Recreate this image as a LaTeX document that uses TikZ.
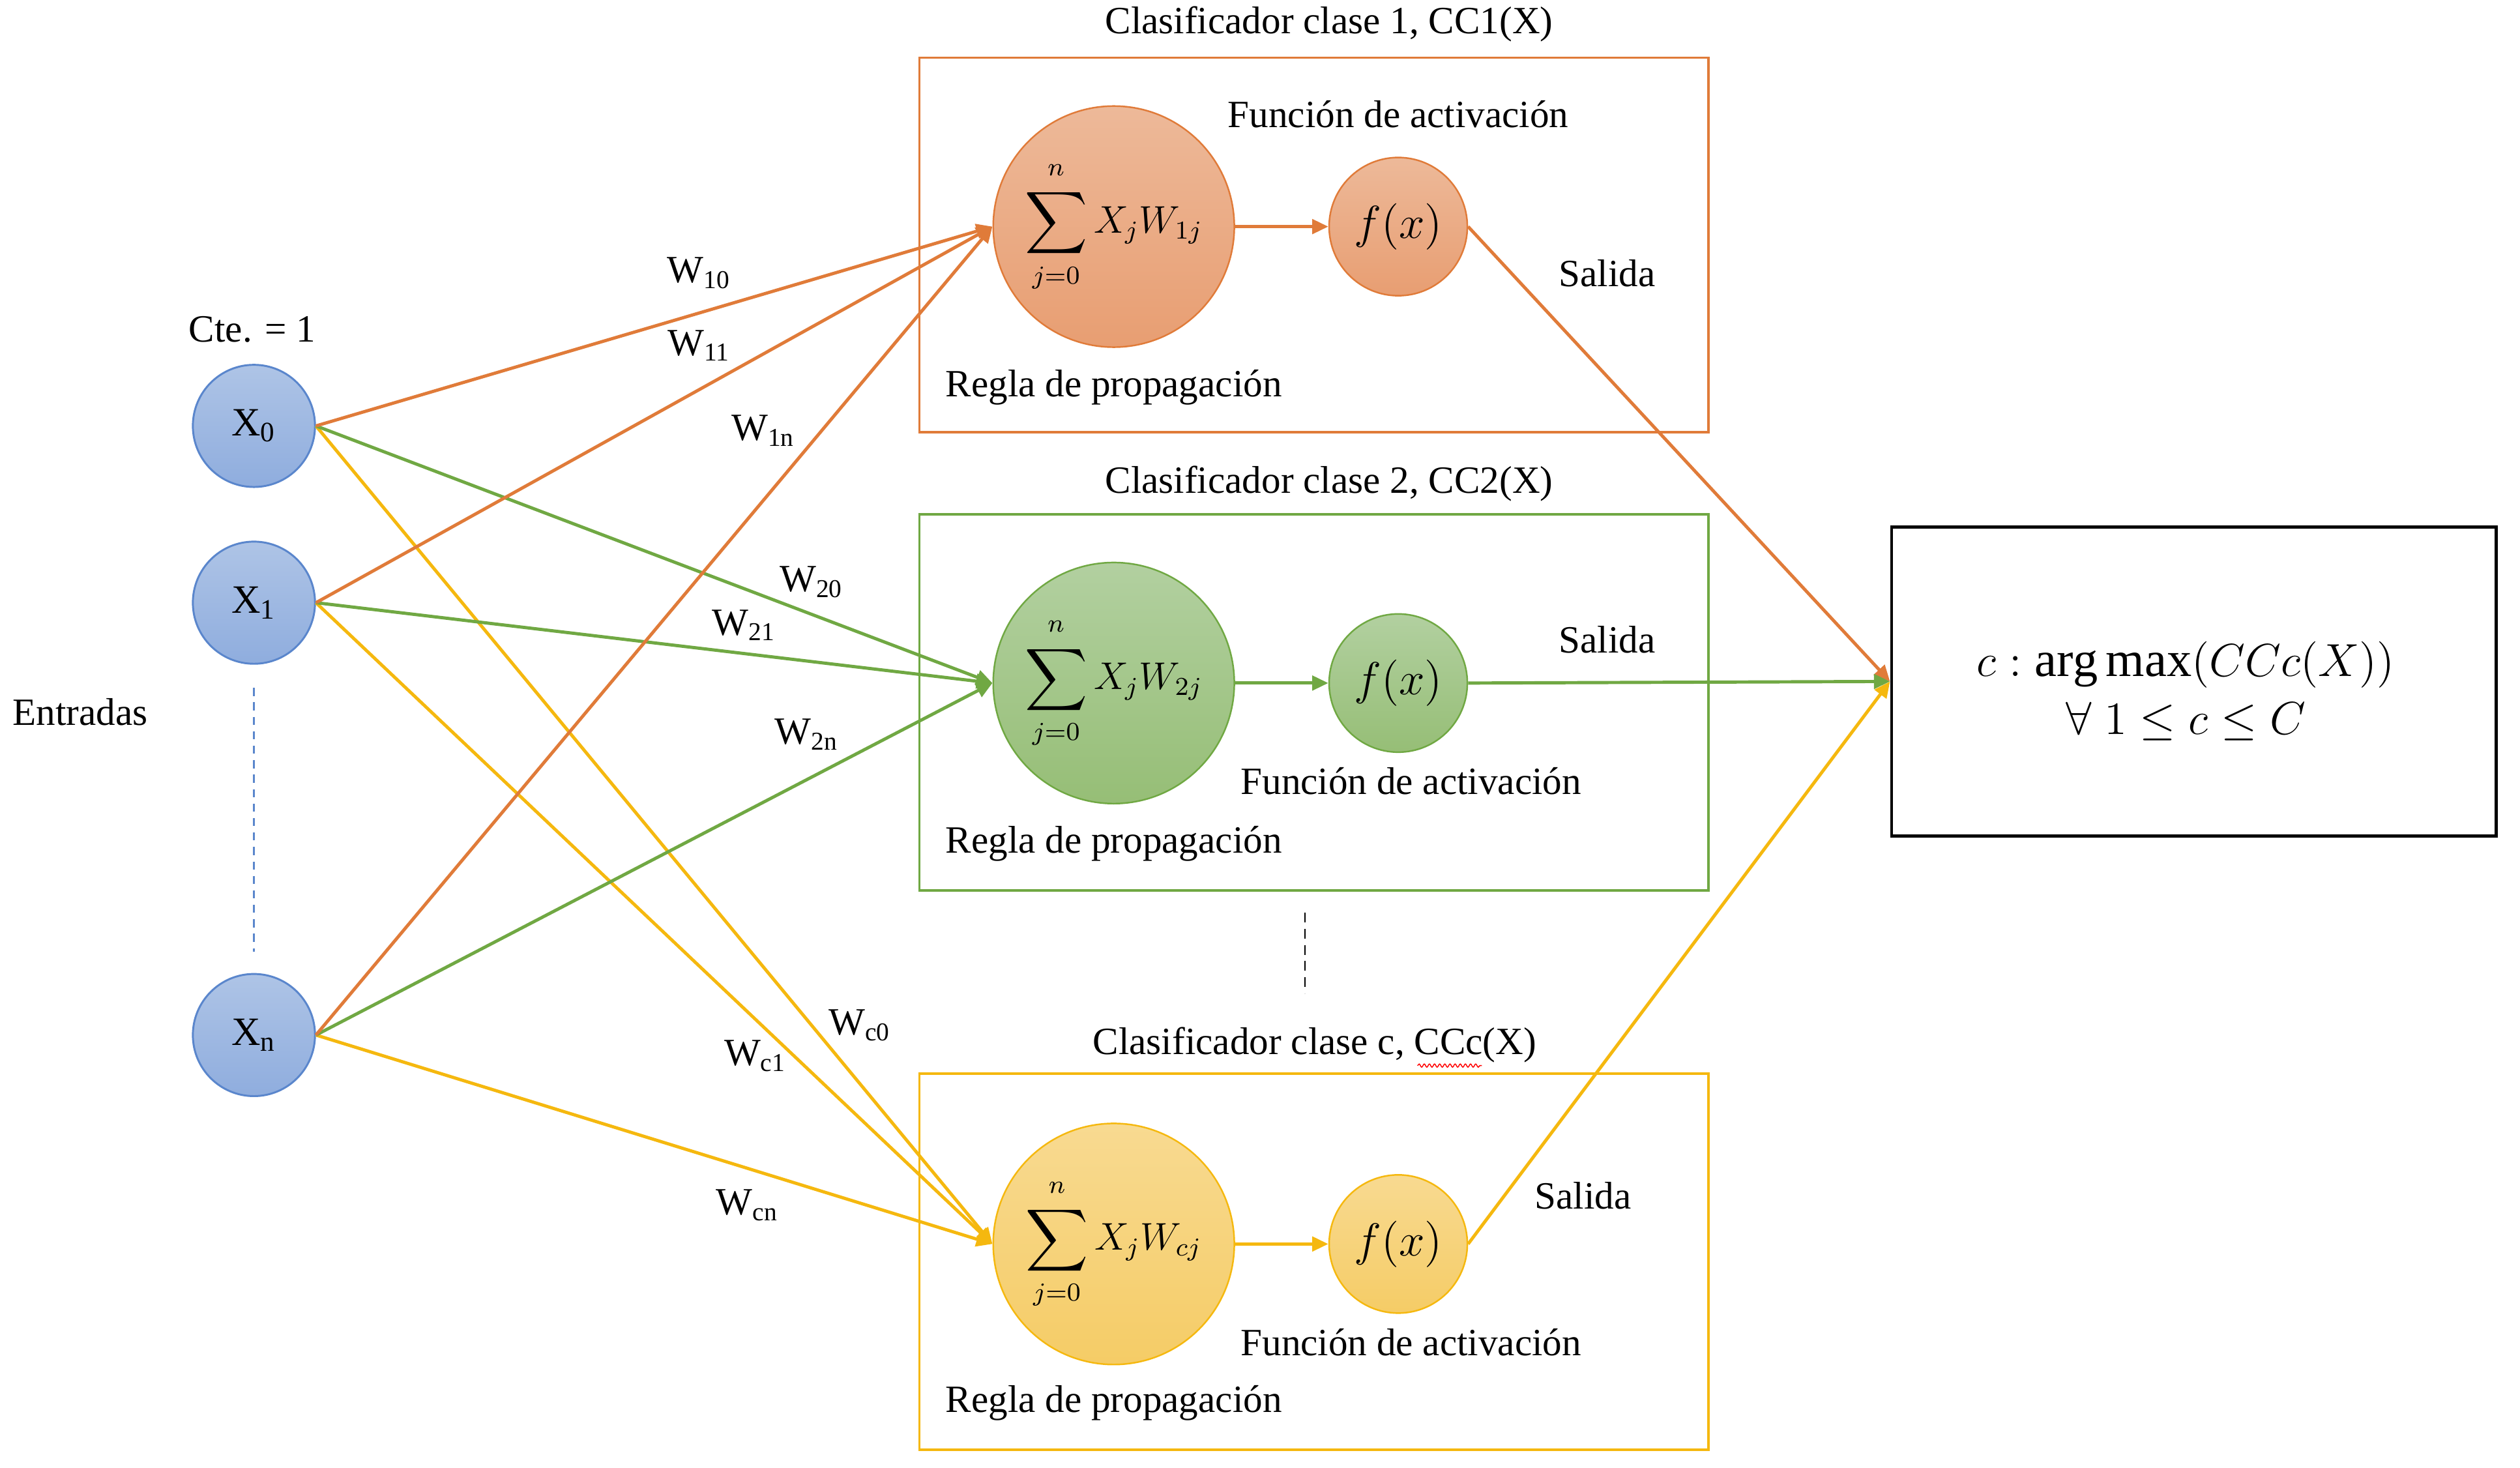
\documentclass[tikz,border=0pt]{standalone}
\usepackage{fontspec}
\setmainfont{Liberation Serif}
\usetikzlibrary{arrows.meta,decorations.pathmorphing}
\definecolor{cOr}{HTML}{E07B39}
\definecolor{cGr}{HTML}{70A843}
\definecolor{cYe}{HTML}{F5B80F}
\definecolor{cBl}{HTML}{5A86CC}
\newcommand{\bigsum}{\mathop{\vcenter{\hbox{\scalebox{1.35}{$\displaystyle\sum$}}}}\limits_{\raisebox{-2pt}{$\scriptstyle j=0$}}^{\raisebox{2pt}{$\scriptstyle n$}}}
\tikzset{
  txt/.style={font=\fontsize{12}{14}\selectfont, inner sep=0pt},
  inp/.style={circle, draw=cBl, line width=0.6pt, minimum size=38pt, inner sep=0pt,
     top color={rgb,255:red,174;green,196;blue,230}, bottom color={rgb,255:red,143;green,173;blue,222}, font=\fontsize{12.5}{14}\selectfont},
  sumO/.style={circle, draw=cOr, line width=0.5pt, minimum size=75pt, inner sep=0pt,
     top color={rgb,255:red,237;green,185;blue,153}, bottom color={rgb,255:red,232;green,158;blue,114}, font=\fontsize{12}{14}\selectfont},
  sumG/.style={circle, draw=cGr, line width=0.5pt, minimum size=75pt, inner sep=0pt,
     top color={rgb,255:red,178;green,208;blue,160}, bottom color={rgb,255:red,150;green,190;blue,118}, font=\fontsize{12}{14}\selectfont},
  sumY/.style={circle, draw=cYe, line width=0.5pt, minimum size=75pt, inner sep=0pt,
     top color={rgb,255:red,248;green,218;blue,145}, bottom color={rgb,255:red,245;green,204;blue,102}, font=\fontsize{12}{14}\selectfont},
  fO/.style={sumO, minimum size=43pt, font=\fontsize{13.5}{15}\selectfont},
  fG/.style={sumG, minimum size=43pt, font=\fontsize{13.5}{15}\selectfont},
  fY/.style={sumY, minimum size=43pt, font=\fontsize{13.5}{15}\selectfont},
  boxO/.style={draw=cOr, line width=0.7pt},
  boxG/.style={draw=cGr, line width=0.7pt},
  boxY/.style={draw=cYe, line width=0.7pt},
  arO/.style={draw=cOr, line width=1pt, -{Triangle[length=5pt,width=4.5pt]}},
  arG/.style={draw=cGr, line width=1pt, -{Triangle[length=5pt,width=4.5pt]}},
  arY/.style={draw=cYe, line width=1pt, -{Triangle[length=5pt,width=4.5pt]}},
}
\begin{document}
\begin{tikzpicture}[x=0.5pt,y=-0.5pt]
\useasboundingbox (0,0) rectangle (1568,913);

% classifier boxes
\draw[boxO] (572,36) rectangle (1063,269);
\draw[boxG] (572,320) rectangle (1063,554);
\draw[boxY] (572,668) rectangle (1063,902);

% titles
\node[txt] (t1) at (827,15) {Clasificador clase 1, CC1(X)};
\node[txt] (t2) at (827,301) {Clasificador clase 2, CC2(X)};
\node[txt] (t3) at (818,650) {Clasificador clase c, CCc(X)};
\draw[red, line width=0.3pt, decorate, decoration={snake, amplitude=0.5pt, segment length=1.6pt}] (882,663) -- (922,663);

% inputs
\node[inp] (x0) at (158,265) {X\textsubscript{0}};
\node[inp] (x1) at (158,375) {X\textsubscript{1}};
\node[inp] (xn) at (158,644) {X\textsubscript{n}};
\coordinate (da) at (158,428);
\coordinate (db) at (158,592);
\draw[cBl, line width=0.5pt, dash pattern=on 2.5pt off 2pt] (da) -- (db);
\node[txt] (cte) at (157,205) {Cte. = 1};
\node[txt] (ent) at (50,443) {Entradas};

% sum and activation nodes
\node[sumO] (s1) at (693,141) {$\displaystyle\bigsum X_j W_{1j}$};
\node[fO] (f1) at (870,141) {$f(x)$};
\node[sumG] (s2) at (693,425) {$\displaystyle\bigsum X_j W_{2j}$};
\node[fG] (f2) at (870,425) {$f(x)$};
\node[sumY] (s3) at (693,774) {$\displaystyle\bigsum X_j W_{cj}$};
\node[fY] (f3) at (870,774) {$f(x)$};

% labels inside boxes
\node[txt] (fa1) at (870,71) {Función de activación};
\node[txt] (sa1) at (1000,170) {Salida};
\node[txt] (rp1) at (693,241) {Regla de propagación};
\node[txt] (sa2) at (1000,398) {Salida};
\node[txt] (fa2) at (878,486) {Función de activación};
\node[txt] (rp2) at (693,525) {Regla de propagación};
\node[txt] (sa3) at (985,744) {Salida};
\node[txt] (fa3) at (878,835) {Función de activación};
\node[txt] (rp3) at (693,873) {Regla de propagación};

% dashed between classifiers
\coordinate (dc) at (812,568);
\coordinate (dd) at (812,618);
\draw[black, line width=0.5pt, dash pattern=on 3pt off 2pt] (dc) -- (dd);

% result box
\node[draw=black, line width=1pt, minimum width=188pt, minimum height=96pt, inner sep=0pt] (res) at (1365,424) {};
\node[font=\fontsize{15.5}{19}\selectfont, align=center, inner sep=0pt] (rt) at (1360,430)
  {$c : \arg\max(CCc(X))$\\[-1pt] $\forall\ 1 \le c \le C$};

% weight labels
\node[txt] (w10) at (435,170) {W\textsubscript{10}};
\node[txt] (w11) at (435,215) {W\textsubscript{11}};
\node[txt] (w1n) at (475,268) {W\textsubscript{1n}};
\node[txt] (w20) at (505,362) {W\textsubscript{20}};
\node[txt] (w21) at (463,389) {W\textsubscript{21}};
\node[txt] (w2n) at (502,457) {W\textsubscript{2n}};
\node[txt] (wc0) at (535,638) {W\textsubscript{c0}};
\node[txt] (wc1) at (470,657) {W\textsubscript{c1}};
\node[txt] (wcn) at (465,750) {W\textsubscript{cn}};

% connectors
\draw[arY] (x0.east) -- (s3.west);
\draw[arY] (x1.east) -- (s3.west);
\draw[arY] (xn.east) -- (s3.west);
\draw[arG] (x0.east) -- (s2.west);
\draw[arG] (x1.east) -- (s2.west);
\draw[arG] (xn.east) -- (s2.west);
\draw[arO] (x0.east) -- (s1.west);
\draw[arO] (x1.east) -- (s1.west);
\draw[arO] (xn.east) -- (s1.west);

\draw[arO] (s1.east) -- (f1.west);
\draw[arG] (s2.east) -- (f2.west);
\draw[arY] (s3.east) -- (f3.west);

\draw[arO] (f1.east) -- (res.west);
\draw[arY] (f3.east) -- (res.west);
\draw[arG] (f2.east) -- (res.west);
\end{tikzpicture}
\end{document}
